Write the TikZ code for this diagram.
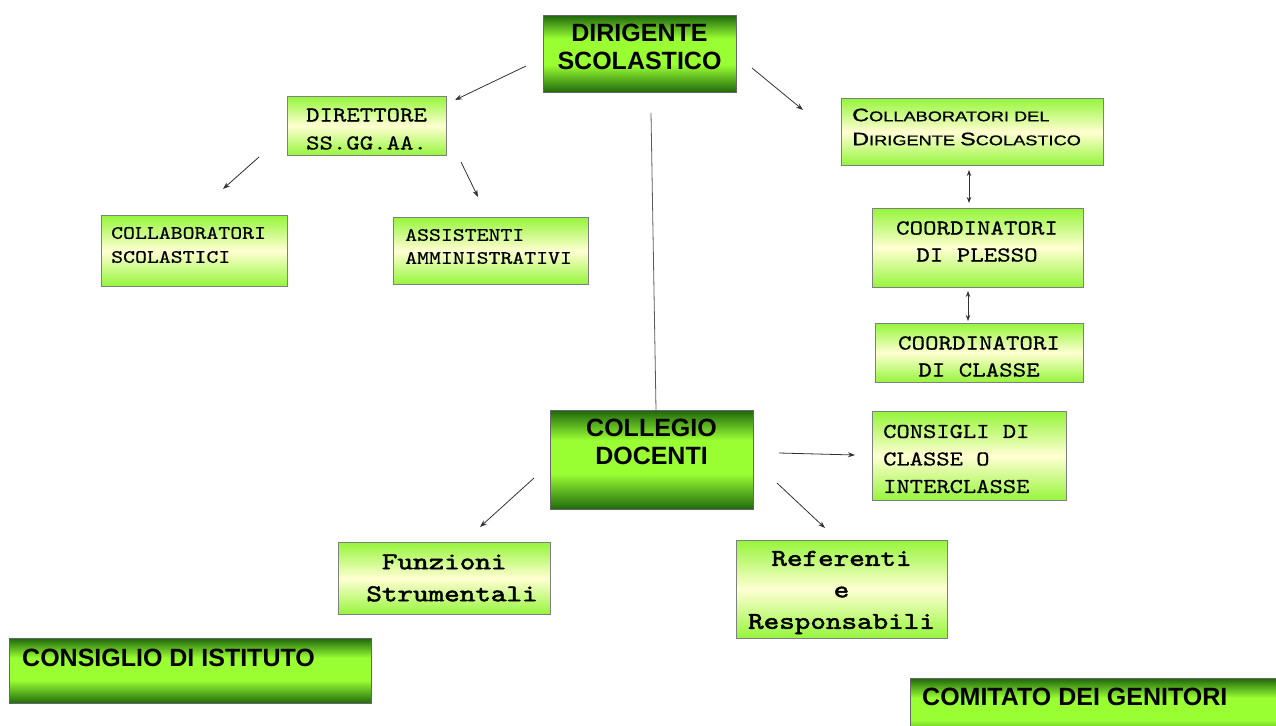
\documentclass[tikz,border=0pt]{standalone}
\usepackage{fontspec}
\setmainfont{Liberation Sans}
\newfontfamily\mono{lmmono10-regular.otf}[FakeStretch=1.2,FakeBold=0.6]
\newfontfamily\monob{lmmono10-regular.otf}[FakeStretch=1.23,FakeBold=2]
\newfontfamily\copp{Liberation Sans}[FakeBold=0.8]
\usetikzlibrary{arrows.meta}
\definecolor{dg}{RGB}{31,104,12}
\definecolor{bg}{RGB}{153,255,51}
\definecolor{lg}{RGB}{150,245,60}
\definecolor{pale}{RGB}{255,255,210}
\definecolor{linec}{RGB}{50,50,50}
\pgfdeclareverticalshading{darkbar}{100bp}{color(0bp)=(dg); color(25bp)=(dg); color(43bp)=(bg); color(60bp)=(bg); color(75bp)=(dg); color(100bp)=(dg)}
\pgfdeclareverticalshading{lightbar}{100bp}{color(0bp)=(lg); color(25bp)=(lg); color(50bp)=(pale); color(75bp)=(lg); color(100bp)=(lg)}
\newcommand{\bigc}[1]{{\fontsize{18}{18}\selectfont #1}}
\begin{document}
\begin{tikzpicture}[x=1pt,y=-1pt,
  darkbox/.style={draw=gray!80!black, line width=0.8pt, shading=darkbar, anchor=north west, inner sep=0pt},
  lightbox/.style={draw=gray, line width=0.8pt, shading=lightbar, anchor=north west, inner sep=0pt},
  darktext/.style={font=\fontsize{25}{28}\selectfont\bfseries, align=center, inner sep=0pt},
  monotext/.style 2 args={font=\mono\fontsize{#1}{#2}\selectfont, inner sep=0pt},
  monobtext/.style 2 args={font=\monob\fontsize{#1}{#2}\selectfont, inner sep=0pt},
  conn/.style={draw=linec, line width=0.8pt, -{Stealth[length=7pt,width=5pt]}},
  dconn/.style={draw=linec, line width=0.8pt, {Stealth[length=6pt,width=4.5pt]}-{Stealth[length=6pt,width=4.5pt]}},
  plain/.style={draw=linec!80, line width=0.8pt}]
\useasboundingbox (0,0) rectangle (1276,725);

% boxes
\node[darkbox, minimum width=193pt, minimum height=77pt] (dir) at (543,15) {};
\node[darktext] (dirT) at (639.5,46.5) {DIRIGENTE\\SCOLASTICO};

\node[lightbox, minimum width=159pt, minimum height=59pt] (dsga) at (287,96) {};
\node[monotext={21.3}{28}, align=center] (dsgaT) at (366.5,129) {DIRETTORE\\SS.GG.AA.};

\node[lightbox, minimum width=186pt, minimum height=71pt] (cs) at (101,215) {};
\node[monotext={18.9}{24}, align=left, anchor=west] (csT) at (111,245) {COLLABORATORI\\SCOLASTICI};

\node[lightbox, minimum width=195pt, minimum height=67pt] (aa) at (393,217) {};
\node[monotext={18.9}{23}, align=left, anchor=west] (aaT) at (405,246.5) {ASSISTENTI\\AMMINISTRATIVI};

\node[lightbox, minimum width=262pt, minimum height=67pt] (cds) at (841,98) {};
\node[font=\copp\fontsize{14}{24}\selectfont, align=left, anchor=west, inner sep=0pt] (cdsT) at (852,127)
  {\scalebox{1.3}[1]{\bigc{C}OLLABORATORI DEL}\\\scalebox{1.3}[1]{\bigc{D}IRIGENTE \bigc{S}COLASTICO}};

\node[lightbox, minimum width=211pt, minimum height=79pt] (cp) at (872,208) {};
\node[monotext={21.4}{27}, align=center] (cpT) at (977,241.5) {COORDINATORI\\DI PLESSO};

\node[lightbox, minimum width=208pt, minimum height=59pt] (cc) at (875,323) {};
\node[monotext={21.4}{27}, align=center] (ccT) at (979,356.5) {COORDINATORI\\DI CLASSE};

\node[darkbox, minimum width=203pt, minimum height=99pt] (cd) at (550,410) {};
\node[darktext] (cdT) at (651.5,442) {COLLEGIO\\DOCENTI};

\node[lightbox, minimum width=194pt, minimum height=89pt] (cons) at (872,411) {};
\node[monotext={21.1}{27.5}, align=left, anchor=west] (consT) at (883,459) {CONSIGLI DI\\CLASSE O\\INTERCLASSE};

\node[lightbox, minimum width=212pt, minimum height=72pt] (fs) at (338,542) {};
\node[monobtext={24.1}{32}, align=center] (fsT) at (452,578) {Funzioni\hphantom{x}\\Strumentali};

\node[lightbox, minimum width=211pt, minimum height=98pt] (rr) at (736,540) {};
\node[monobtext={24.1}{31.5}, align=center] (rrT) at (841.5,592.5) {Referenti\\e\\Responsabili};

\node[darkbox, minimum width=362pt, minimum height=65pt] (ci) at (9,638) {};
\node[darktext, anchor=west] (ciT) at (22,658) {CONSIGLIO DI ISTITUTO};

\node[darkbox, minimum width=380pt, minimum height=65pt] (cg) at (910,678) {};
\node[darktext, anchor=west] (cgT) at (922,697) {COMITATO DEI GENITORI};

% connector end points
\coordinate (a1s) at (526,66);  \coordinate (a1e) at (455,100);
\coordinate (a2s) at (752,68);  \coordinate (a2e) at (803,110);
\coordinate (a3s) at (259,157); \coordinate (a3e) at (223,189);
\coordinate (a4s) at (461,162); \coordinate (a4e) at (478,197);
\coordinate (vs) at (651,113);  \coordinate (ve) at (656,410);
\coordinate (d1s) at (969,170); \coordinate (d1e) at (969,203);
\coordinate (d2s) at (968,291); \coordinate (d2e) at (968,321);
\coordinate (a5s) at (779,453); \coordinate (a5e) at (855,455);
\coordinate (a6s) at (534,478); \coordinate (a6e) at (480,527);
\coordinate (a7s) at (777,483); \coordinate (a7e) at (825,528);

\draw[conn] (a1s) -- (a1e);
\draw[conn] (a2s) -- (a2e);
\draw[conn] (a3s) -- (a3e);
\draw[conn] (a4s) -- (a4e);
\draw[plain] (vs) -- (ve);
\draw[dconn] (d1s) -- (d1e);
\draw[dconn] (d2s) -- (d2e);
\draw[conn] (a5s) -- (a5e);
\draw[conn] (a6s) -- (a6e);
\draw[conn] (a7s) -- (a7e);
\end{tikzpicture}
\end{document}
